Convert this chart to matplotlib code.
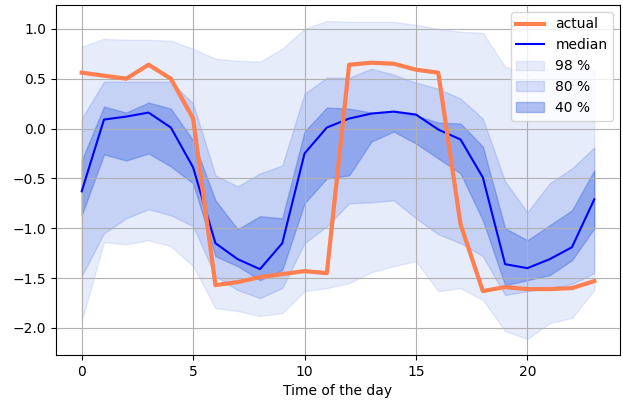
import matplotlib
matplotlib.use("Agg")
import matplotlib.pyplot as plt
import numpy as np

hours = np.arange(24)

actual = [0.56, 0.53, 0.50, 0.64, 0.50, 0.10, -1.57, -1.54, -1.49, -1.46, -1.43, -1.45,
          0.64, 0.66, 0.65, 0.59, 0.56, -0.96, -1.63, -1.59, -1.61, -1.61, -1.60, -1.53]
median = [-0.63, 0.09, 0.12, 0.16, 0.01, -0.39, -1.15, -1.31, -1.41, -1.15, -0.25, 0.01,
          0.10, 0.15, 0.17, 0.14, -0.01, -0.11, -0.49, -1.36, -1.40, -1.31, -1.19, -0.71]

# quantile bands (lower, upper) for each hour
lo98 = [-1.93, -1.14, -1.16, -1.12, -1.18, -1.38, -1.80, -1.83, -1.88, -1.85, -1.63, -1.60,
        -1.55, -1.44, -1.38, -1.33, -1.63, -1.60, -1.72, -2.03, -2.11, -1.95, -1.90, -1.62]
hi98 = [0.82, 0.90, 0.89, 0.89, 0.88, 0.80, 0.70, 0.68, 0.67, 0.80, 1.00, 1.08,
        1.07, 1.07, 1.07, 1.04, 1.00, 0.97, 0.96, 0.62, 0.55, 0.60, 0.62, 0.58]
lo80 = [-1.48, -1.05, -0.90, -0.81, -0.87, -0.98, -1.48, -1.62, -1.70, -1.60, -1.15, -0.98,
        -0.75, -0.74, -0.72, -0.90, -1.06, -1.15, -1.28, -1.67, -1.63, -1.60, -1.56, -1.45]
hi80 = [0.10, 0.47, 0.47, 0.47, 0.47, 0.25, -0.47, -0.58, -0.45, -0.37, 0.35, 0.51,
        0.51, 0.60, 0.54, 0.46, 0.40, 0.30, 0.10, -0.53, -0.84, -0.55, -0.40, -0.19]
lo40 = [-0.87, -0.26, -0.32, -0.25, -0.38, -0.55, -1.28, -1.38, -1.52, -1.42, -0.75, -0.50,
        -0.47, -0.13, -0.03, -0.15, -0.30, -0.45, -0.92, -1.57, -1.52, -1.47, -1.32, -1.00]
hi40 = [-0.32, 0.22, 0.16, 0.26, 0.20, -0.12, -0.72, -1.01, -0.88, -0.90, -0.03, 0.21,
        0.20, 0.16, 0.17, 0.13, 0.06, 0.05, -0.18, -1.00, -1.12, -0.97, -0.82, -0.42]

fig = plt.figure(figsize=(6.23, 4.07), dpi=100)
ax = fig.add_axes([0.09, 0.128, 0.905, 0.86])

ax.plot(hours, actual, color="coral", linewidth=3, label="actual", zorder=4)
ax.plot(hours, median, color="blue", linewidth=1.5, label="median", zorder=3)
ax.fill_between(hours, lo98, hi98, color="royalblue", alpha=0.12, label="98 %")
ax.fill_between(hours, lo80, hi80, color="royalblue", alpha=0.2, label="80 %")
ax.fill_between(hours, lo40, hi40, color="royalblue", alpha=0.4, label="40 %")

ax.set_xlim(-1.15, 24.15)
ax.set_ylim(-2.27, 1.24)
ax.set_xticks([0, 5, 10, 15, 20])
ax.set_yticks(np.arange(-2.0, 1.01, 0.5))
ax.grid(True)
ax.set_xlabel("Time of the day")
ax.legend(loc="upper right")

fig.savefig("out.png", dpi=100)
